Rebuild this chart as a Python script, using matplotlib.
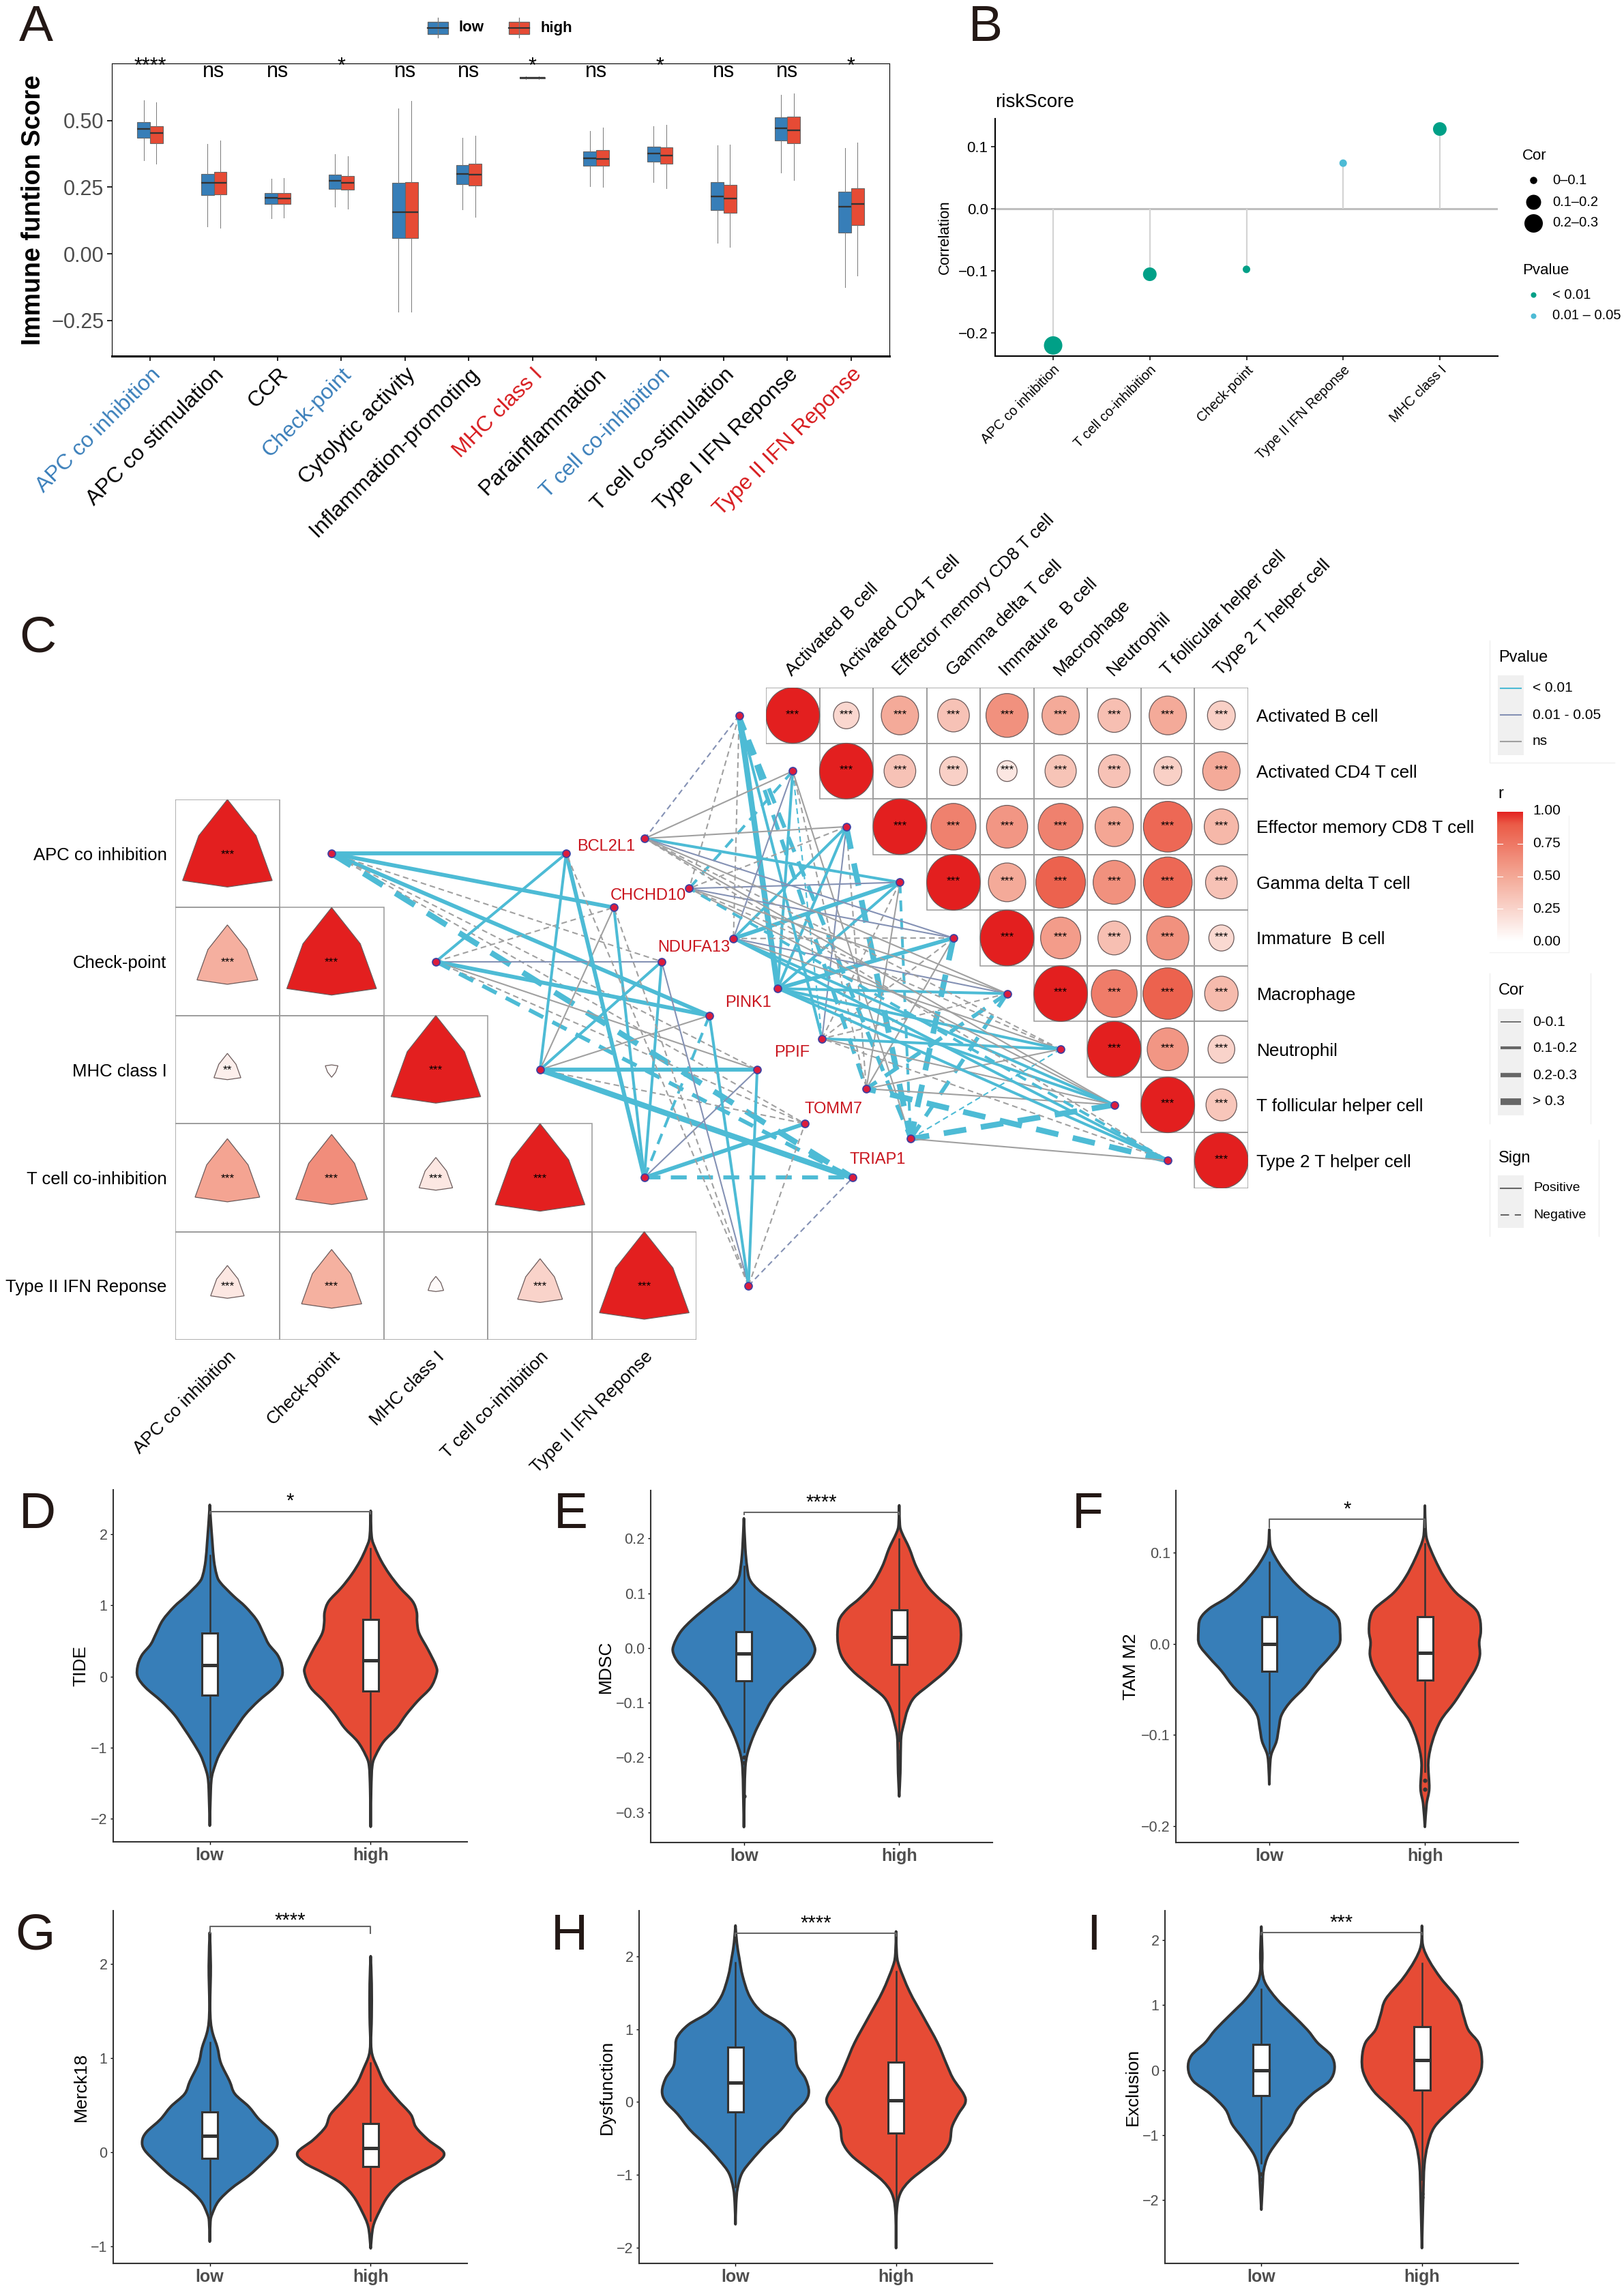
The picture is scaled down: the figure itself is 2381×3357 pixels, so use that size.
import numpy as np
from matplotlib import pyplot as plt
from matplotlib.colors import LinearSegmentedColormap
from matplotlib.patches import Ellipse, PathPatch, Polygon, Rectangle
from matplotlib.path import Path

W, H = 2381, 3357
plt.rcParams['font.family'] = ['Liberation Sans', 'DejaVu Sans']

BLUE = '#377EB8'
RED = '#E64B35'
LABEL_BLUE = '#3A7FBA'
LABEL_RED = '#D7191C'
TEAL = '#00A087'
SKY = '#4DBBD5'
PURPLE = '#8491B4'
GREY = '#A0A0A0'
DARK = '#333333'
LETTER = '#231815'

# ---- panel A
functions = ['APC co inhibition', 'APC co stimulation', 'CCR', 'Check-point',
             'Cytolytic activity', 'Inflammation-promoting', 'MHC class I',
             'Parainflammation', 'T cell co-inhibition', 'T cell co-stimulation',
             'Type I IFN Reponse', 'Type II IFN Reponse']
function_colors = [LABEL_BLUE, 'black', 'black', LABEL_BLUE, 'black', 'black',
                   LABEL_RED, 'black', LABEL_BLUE, 'black', 'black', LABEL_RED]
function_sig = ['****', 'ns', 'ns', '*', 'ns', 'ns', '*', 'ns', '*', 'ns', 'ns', '*']
# whisker low, q1, median, q3, whisker high
function_low = [[.350, .435, .469, .494, .575], [.102, .220, .267, .299, .412],
                [.133, .187, .209, .227, .282], [.178, .243, .273, .297, .375],
                [-.216, .060, .157, .267, .546], [.166, .261, .299, .333, .435],
                [.655, .659, .661, .664, .666], [.253, .331, .359, .385, .461],
                [.268, .346, .376, .402, .480], [.042, .165, .216, .268, .408],
                [.306, .425, .470, .512, .596], [-.124, .081, .176, .234, .396]]
function_high = [[.337, .416, .452, .478, .567], [.098, .222, .267, .307, .425],
                 [.135, .186, .208, .229, .285], [.170, .240, .267, .291, .367],
                 [-.217, .059, .157, .269, .574], [.139, .256, .297, .337, .442],
                 [.655, .659, .661, .664, .666], [.250, .331, .355, .389, .474],
                 [.247, .337, .368, .399, .485], [.026, .155, .208, .259, .410],
                 [.276, .416, .463, .515, .602], [-.080, .107, .187, .246, .418]]

# ---- panel B
cor_terms = ['APC co inhibition', 'T cell co-inhibition', 'Check-point',
             'Type II IFN Reponse', 'MHC class I']
cor_values = [-.2206, -.1059, -.098, .073, .128]
cor_sizes = [378, 207, 63, 63, 207]
cor_colors = [TEAL, TEAL, TEAL, SKY, TEAL]

# ---- panel C
left_terms = ['APC co inhibition', 'Check-point', 'MHC class I',
              'T cell co-inhibition', 'Type II IFN Reponse']
left_r = [[1.], [.46, 1.], [.09, -.02, 1.], [.52, .64, .14, 1.], [.14, .45, .03, .25, 1.]]
left_stars = [['***'], ['***', '***'], ['**', '', '***'],
              ['***', '***', '***', '***'], ['***', '***', '', '***', '***']]
right_terms = ['Activated B cell', 'Activated CD4 T cell', 'Effector memory CD8 T cell',
               'Gamma delta T cell', 'Immature  B cell', 'Macrophage', 'Neutrophil',
               'T follicular helper cell', 'Type 2 T helper cell']
right_r = [[1., .23, .485, .35, .62, .485, .37, .485, .27],
           [1., .35, .27, .14, .34, .35, .27, .485],
           [1., .70, .59, .70, .51, .83, .41],
           [1., .485, .86, .62, .83, .35],
           [1., .56, .37, .62, .22],
           [1., .73, .86, .39],
           [1., .59, .25],
           [1., .33],
           [1.]]
genes = ['BCL2L1', 'CHCHD10', 'NDUFA13', 'PINK1', 'PPIF', 'TOMM7', 'TRIAP1']
# one code per gene: s/d solid or dashed, b/p/g p-value colour, 1-4 width class
left_edges = [['sb3', 'sb3', 'dg1', 'sb3', 'dg1', 'dg1', 'db4'],
              ['sb2', 'dg1', 'sp1', 'sb3', 'sg1', 'dg1', 'db3'],
              ['sb2', 'sg1', 'sb2', 'sg1', 'sb3', 'dg1', 'sb4'],
              ['sb3', 'sb2', 'sb2', 'db2', 'sp1', 'sb3', 'db3'],
              ['dg1', 'dg1', 'sp1', 'sb2', 'sb2', 'dg1', 'dp1']]
right_edges = [['dp1', 'dg1', 'dg1', 'sb4', 'sb2', 'db3', 'db3'],
               ['sg1', 'db2', 'sp1', 'sb2', 'db1', 'dg1', 'sg1'],
               ['sg1', 'dg1', 'sb2', 'sb2', 'sp1', 'dg1', 'db4'],
               ['sb2', 'sp1', 'sb3', 'sb2', 'dg1', 'sg1', 'db2'],
               ['sp1', 'sp1', 'dg1', 'sb3', 'dg1', 'sg1', 'db4'],
               ['sg1', 'sg1', 'sp1', 'sb2', 'dg1', 'db3', 'db3'],
               ['dg1', 'dg1', 'sg1', 'sb2', 'sb2', 'sg1', 'db1'],
               ['sg1', 'sg1', 'sb2', 'sb2', 'sg1', 'sg1', 'db4'],
               ['dg1', 'db2', 'sb2', 'sb2', 'dg1', 'db4', 'sg1']]

# ---- panels D-I: violin outlines read as (value, half width)
tide_low_y = [2.414, 2.197, 1.894, 1.628, 1.438, 1.324, 1.135, .983, .793, .603, .452, .300,
              .148, -.004, -.156, -.345, -.535, -.725, -.915, -1.104, -1.256, -1.408, -1.598, -2.099]
tide_low_w = [0, .006, .016, .026, .042, .065, .146, .221, .292, .334, .367, .422,
              .448, .448, .399, .302, .221, .162, .107, .058, .032, .013, .006, 0]
tide_high_y = [2.330, 1.970, 1.818, 1.628, 1.438, 1.249, 1.059, .907, .755, .603, .376, .148,
               .034, -.156, -.345, -.535, -.725, -.915, -1.104, -1.256, -1.598, -2.114]
tide_high_w = [0, .006, .026, .065, .117, .182, .260, .286, .289, .302, .357, .406,
               .409, .373, .292, .221, .162, .081, .032, .010, .003, 0]
mdsc_low_y = [.2367, .182, .149, .125, .106, .082, .053, .030, .006, -.009, -.028, -.051,
              -.075, -.099, -.123, -.147, -.170, -.194, -.218, -.266, -.327]
mdsc_low_w = [0, .009, .020, .038, .094, .205, .328, .406, .451, .455, .417, .328,
              .239, .172, .127, .083, .049, .022, .009, .004, 0]
mdsc_high_y = [.2605, .225, .210, .182, .149, .115, .091, .072, .053, .030, .006, -.018,
               -.042, -.066, -.090, -.113, -.137, -.161, -.194, -.228, -.271]
mdsc_high_w = [0, .004, .018, .065, .109, .176, .254, .333, .384, .397, .393, .366,
               .299, .199, .098, .054, .031, .013, .009, .007, 0]
tam_low_y = [.1255, .1077, .0963, .082, .0648, .0504, .039, .0275, .0132, -.0011, -.0155, -.0298,
             -.047, -.0642, -.0785, -.0928, -.1072, -.1215, -.1358, -.1544]
tam_low_w = [0, .007, .035, .089, .176, .275, .383, .444, .455, .449, .383, .307,
             .231, .133, .078, .061, .046, .013, .004, 0]
tam_high_y = [.1519, .1278, .1135, .0934, .0734, .0562, .039, .0275, .0132, .0017, -.0126, -.0269,
              -.0441, -.0642, -.0842, -.1072, -.1301, -.1587, -.1759, -.2011]
tam_high_w = [0, .004, .015, .063, .124, .200, .320, .353, .359, .349, .353, .327,
              .266, .190, .102, .048, .022, .028, .011, 0]
merck_low_y = [2.331, 1.978, 1.571, 1.381, 1.259, 1.110, .947, .757, .621, .486, .350, .214,
               .119, .024, -.111, -.247, -.383, -.518, -.654, -.735, -.947]
merck_low_w = [0, .006, .002, .006, .019, .048, .069, .123, .156, .242, .307, .394,
               .420, .405, .329, .242, .134, .054, .015, .004, 0]
merck_high_y = [2.081, 1.788, 1.436, 1.164, 1.028, .893, .730, .567, .404, .269, .133, -.003,
                -.111, -.220, -.328, -.464, -.627, -.790, -1.018]
merck_high_w = [0, .006, .006, .002, .011, .043, .087, .162, .249, .281, .357, .455,
                .411, .292, .184, .108, .054, .015, 0]
dys_low_y = [2.421, 2.182, 1.972, 1.726, 1.446, 1.235, 1.060, .884, .709, .498, .323, .147,
             .007, -.168, -.379, -.589, -.800, -.975, -1.186, -1.396, -1.677]
dys_low_w = [0, .009, .024, .045, .089, .165, .294, .364, .374, .385, .435, .457,
             .435, .359, .284, .186, .100, .041, .013, .004, 0]
dys_high_y = [2.340, 2.042, 1.867, 1.516, 1.165, .814, .533, .323, .112, -.011, -.168, -.344,
              -.554, -.730, -.905, -1.081, -1.256, -1.502, -2.004]
dys_high_w = [0, .004, .019, .084, .171, .258, .312, .355, .420, .431, .387, .348,
              .333, .279, .182, .084, .026, .004, 0]
excl_low_y = [2.204, 1.796, 1.521, 1.324, 1.088, .853, .617, .420, .224, .028, -.169, -.365,
              -.601, -.837, -1.073, -1.308, -1.544, -1.780, -2.145]
excl_low_w = [0, .006, .006, .027, .097, .192, .287, .350, .435, .456, .424, .319,
              .224, .181, .108, .044, .015, .008, 0]
excl_high_y = [2.216, 1.914, 1.678, 1.403, 1.088, .853, .617, .420, .185, -.051, -.326, -.601,
               -.876, -1.151, -1.466, -1.937, -2.735]
excl_high_w = [0, .006, .046, .120, .226, .257, .289, .352, .373, .363, .300, .184,
               .078, .036, .015, .008, 0]

# whisker low, q1, median, q3, whisker high
tide_low_box, tide_high_box = [-1.41, -.262, .159, .611, 1.70], [-1.29, -.201, .224, .805, 1.80]
mdsc_low_box, mdsc_high_box = [-.19, -.060, -.010, .030, .149], [-.17, -.030, .020, .070, .199]
tam_low_box, tam_high_box = [-.12, -.03, 0, .03, .09], [-.14, -.04, -.01, .03, .11]
merck_low_box, merck_high_box = [-.654, -.065, .176, .429, 1.164], [-.722, -.147, .043, .309, .947]
dys_low_box, dys_high_box = [-1.168, -.133, .267, .751, 1.912], [-1.432, -.428, .025, .544, 1.796]
excl_low_box, excl_high_box = [-1.426, -.397, -.004, .389, 1.246], [-1.682, -.31, .157, .668, 1.639]

fig = plt.figure(figsize=(W / 100, H / 100), dpi=100)


def pixel_axes(x0, y0, x1, y1):
    return fig.add_axes([x0 / W, 1 - y1 / H, (x1 - x0) / W, (y1 - y0) / H])


pix = fig.add_axes([0, 0, 1, 1], zorder=10)
pix.set_xlim(0, W)
pix.set_ylim(H, 0)
pix.axis('off')


def make_box(values, fliers=()):
    return {'whislo': values[0], 'q1': values[1], 'med': values[2], 'q3': values[3],
            'whishi': values[4], 'fliers': list(fliers)}


def panel_a():
    ax = pixel_axes(164, 93, 1304, 522)
    for i in range(len(functions)):
        for pos, vals, col in ((i + .9, function_low[i], BLUE), (i + 1.1, function_high[i], RED)):
            ax.bxp([make_box(vals)], positions=[pos], widths=.2, patch_artist=True,
                   showcaps=False, showfliers=False, manage_ticks=False,
                   boxprops={'facecolor': col, 'edgecolor': '#666666', 'linewidth': .8},
                   whiskerprops={'color': '#777777', 'linewidth': .7},
                   medianprops={'color': DARK, 'linewidth': 1.7})
        top = .68 if '*' in function_sig[i] else .6625
        ax.text(i + 1, top, function_sig[i], ha='center', va='baseline', fontsize=22)
    ax.set_xlim(.4, 12.6)
    ax.set_ylim(-.383, .714)
    ax.set_yticks([-.25, 0, .25, .5], ['\u22120.25', '0.00', '0.25', '0.50'],
                  fontsize=22, color='#4D4D4D')
    ax.set_xticks(range(1, 13))
    ax.set_xticklabels(functions, rotation=45, ha='right', va='top', rotation_mode='anchor', fontsize=23)
    for lab, col in zip(ax.get_xticklabels(), function_colors):
        lab.set_color(col)
    ax.tick_params(length=5, width=1.2)
    ax.spines['bottom'].set_linewidth(2.2)
    ax.set_ylabel('Immune funtion Score', fontsize=27, fontweight='bold', labelpad=6)
    # legend at the top
    for x, col, name in ((627, BLUE, 'low'), (746, RED, 'high')):
        pix.plot([x + 15, x + 15], [26, 55], color='#777777', lw=.9)
        pix.add_patch(Rectangle((x, 32), 30, 18, fc=col, ec='#666666', lw=.9))
        pix.plot([x, x + 30], [41, 41], color=DARK, lw=1.6)
        pix.text(x + 46, 41, name, fontsize=16, fontweight='bold', va='center')


def panel_b():
    ax = pixel_axes(1459, 174, 2196, 522)
    xs = range(1, len(cor_terms) + 1)
    ax.axhline(0, color='#BEBEBE', lw=2.2, zorder=1)
    ax.vlines(xs, 0, cor_values, color='#D4D4D4', lw=1.6, zorder=1)
    ax.scatter(xs, cor_values, s=cor_sizes, c=cor_colors, zorder=3, linewidths=0)
    ax.set_xlim(.4, 5.6)
    ax.set_ylim(-.2377, .1446)
    ax.set_yticks([-.2, -.1, 0, .1], ['\u22120.2', '\u22120.1', '0.0', '0.1'], fontsize=16)
    ax.set_xticks(list(xs))
    ax.set_xticklabels(cor_terms, rotation=45, ha='right', va='top', rotation_mode='anchor', fontsize=14.5)
    ax.tick_params(length=4, width=1.1)
    ax.spines[['top', 'right']].set_visible(False)
    ax.spines[['left', 'bottom']].set_linewidth(1.5)
    ax.set_ylabel('Correlation', fontsize=16, labelpad=6)
    pix.text(1459, 150, 'riskScore', fontsize=20, va='center')
    pix.text(2232, 229, 'Cor', fontsize=16, va='center')
    for y, s, name in ((264, 58, '0\u20130.1'), (296, 250, '0.1\u20130.2'), (327, 378, '0.2\u20130.3')):
        pix.scatter([2248], [y], s=s, c='black', linewidths=0)
        pix.text(2276, y, name, fontsize=14.5, va='center')
    pix.text(2232, 396, 'Pvalue', fontsize=16, va='center')
    for y, c, name in ((432, TEAL, '< 0.01'), (463, SKY, '0.01 \u2013 0.05')):
        pix.scatter([2248], [y], s=34, c=c, linewidths=0)
        pix.text(2276, y, name, fontsize=14.5, va='center')


r_cmap = LinearSegmentedColormap.from_list(
    'r', [(0, 'white'), (.5, '#F4A896'), (.9, '#EB5B47'), (1, '#E31F1F')])
# teardrop cell marker, unit = one cell
drop_x = np.array([0, .275, .43, 0, -.43, -.275])
drop_y = np.array([-.5, -.165, .25, .31, .25, -.165])
edge_colors = {'b': SKY, 'p': PURPLE, 'g': GREY}
edge_widths = {'1': 1.5, '2': 2.9, '3': 4.2, '4': 6}


def draw_edges(ax, anchor_x, anchor_y, gene_x, gene_y, edges):
    for i, row in enumerate(edges):
        for j, code in enumerate(row):
            ls = '-' if code[0] == 's' else (0, (4, 2.6))
            ax.plot([anchor_x[i], gene_x[j]], [anchor_y[i], gene_y[j]], color=edge_colors[code[1]],
                    lw=edge_widths[code[2]], ls=ls, clip_on=False, zorder=1,
                    solid_capstyle='butt', dash_capstyle='butt')
    ax.scatter(np.r_[anchor_x, gene_x], np.r_[anchor_y, gene_y], s=62, c='#DC1C3C',
               edgecolors='#4040A0', linewidths=1.3, clip_on=False, zorder=4)


def panel_c_left():
    ax = pixel_axes(257, 1172, 1021, 1964)
    ax.patch.set_visible(False)
    ax.set_xlim(0, 5)
    ax.set_ylim(5, 0)
    for i, row in enumerate(left_r):
        for j, r in enumerate(row):
            ax.add_patch(Rectangle((j, i), 1, 1, fc='none', ec='#999999', lw=1.1, zorder=2))
            size = np.sqrt(abs(r))
            flip = 1 if r >= 0 else -1
            ax.add_patch(Polygon(np.c_[j + .5 + size * drop_x, i + .5 + flip * size * drop_y],
                                 fc=r_cmap(abs(r)), ec='#6B5B5B', lw=.9, zorder=3))
            ax.text(j + .5, i + .535, left_stars[i][j], ha='center', va='baseline', fontsize=12.5, zorder=5)
    ax.set_yticks(np.arange(5) + .5, left_terms, fontsize=18.5)
    ax.set_xticks(np.arange(5) + .5)
    ax.set_xticklabels(left_terms, rotation=45, ha='right', va='top', rotation_mode='anchor', fontsize=19)
    ax.tick_params(length=0, pad=9)
    ax.spines[:].set_visible(False)
    # network: anchors sit one column right of the diagonal, genes on their own diagonal
    anchor_x = np.arange(5) + 1.5
    anchor_y = np.arange(5) + .5
    draw_edges(ax, anchor_x, anchor_y, np.linspace(3.75, 6.5, 7), np.linspace(.5, 3.5, 7), left_edges)
    label_x = [846, 895, 964, 1063, 1135, 1180, 1246]
    label_y = [1241, 1313, 1389, 1470, 1543, 1626, 1700]
    for name, x, y in zip(genes, label_x, label_y):
        pix.text(x, y, name, color='#C9151E', fontsize=17, va='center')


def panel_c_right():
    ax = pixel_axes(1123, 1008, 1830, 1742)
    ax.patch.set_visible(False)
    ax.set_xlim(0, 9)
    ax.set_ylim(9, 0)
    for i, row in enumerate(right_r):
        for k, r in enumerate(row):
            j = i + k
            ax.add_patch(Rectangle((j, i), 1, 1, fc='none', ec='#999999', lw=1.1, zorder=2))
            size = np.sqrt(r)
            ax.add_patch(Ellipse((j + .5, i + .5), size, size, fc=r_cmap(r), ec='#6B5B5B', lw=.9, zorder=3))
            ax.text(j + .5, i + .535, '***', ha='center', va='baseline', fontsize=12.5, zorder=5)
    ax.yaxis.tick_right()
    ax.set_yticks(np.arange(9) + .5, right_terms, fontsize=18.8)
    ax.xaxis.tick_top()
    ax.set_xticks(np.arange(9) + .53)
    ax.set_xticklabels(right_terms, rotation=45, ha='left', va='bottom', rotation_mode='anchor', fontsize=19)
    ax.tick_params(length=0, pad=9)
    ax.spines[:].set_visible(False)
    anchor_x = np.arange(9) - .5
    anchor_y = np.arange(9) + .5
    draw_edges(ax, anchor_x, anchor_y, np.linspace(-2.26, 2.7, 7), np.linspace(2.71, 8.11, 7), right_edges)
    # legends
    pix.text(2197, 964, 'Pvalue', fontsize=17, va='center')
    pix.add_patch(Rectangle((2196, 990), 38, 117, fc='#F0F0F0', ec='none'))
    for y, c, name in ((1009, SKY, '< 0.01'), (1048, PURPLE, '0.01 - 0.05'), (1087, GREY, 'ns')):
        pix.plot([2200, 2230], [y, y], color=c, lw=1.5)
        pix.text(2247, y, name, fontsize=15, va='center')
    pix.plot([2184, 2184, 2367], [939, 1118, 1118], color='#EEEEEE', lw=1)
    pix.text(2196, 1164, 'r', fontsize=17, va='center')
    bar = pixel_axes(2195, 1190, 2233, 1379)
    bar.imshow(np.linspace(1, 0, 256).reshape(-1, 1), cmap=r_cmap, aspect='auto', vmin=0, vmax=1)
    bar.axis('off')
    for y, name in ((1189, '1.00'), (1237, '0.75'), (1285, '0.50'), (1332, '0.25'), (1380, '0.00')):
        pix.text(2247, y, name, fontsize=15, va='center')
        if 1189 < y < 1380:
            pix.plot([2195, 2203], [y, y], color='white', lw=.8)
            pix.plot([2225, 2233], [y, y], color='white', lw=.8)
    pix.plot([2184, 2300, 2300], [1396, 1396, 1196], color='#F2F2F2', lw=1)
    pix.text(2197, 1452, 'Cor', fontsize=17, va='center')
    pix.add_patch(Rectangle((2196, 1479), 38, 156, fc='#F0F0F0', ec='none'))
    for y, lw, name in ((1498, 1.3, '0-0.1'), (1536, 3, '0.1-0.2'), (1576, 4.6, '0.2-0.3'), (1615, 7, '> 0.3')):
        pix.plot([2200, 2230], [y, y], color='#666666', lw=lw, solid_capstyle='butt')
        pix.text(2247, y, name, fontsize=15, va='center')
    pix.plot([2184, 2184], [1427, 1647], color='#EEEEEE', lw=1)
    pix.plot([2332, 2332], [1427, 1647], color='#EEEEEE', lw=1)
    pix.text(2197, 1698, 'Sign', fontsize=17, va='center')
    pix.add_patch(Rectangle((2196, 1723), 38, 77, fc='#F0F0F0', ec='none'))
    pix.plot([2200, 2230], [1742, 1742], color='#666666', lw=1.5)
    pix.plot([2200, 2230], [1781, 1781], color='#666666', lw=1.5, ls=(0, (6, 4)))
    pix.text(2248, 1742, 'Positive', fontsize=14, va='center')
    pix.text(2248, 1781, 'Negative', fontsize=14, va='center')
    pix.plot([2184, 2184], [1671, 1812], color='#EEEEEE', lw=1)
    pix.plot([2344, 2344], [1671, 1812], color='#EEEEEE', lw=1)


def bezier_chain(pts):
    # catmull-rom through the read points, handed to Path as cubic segments
    verts = []
    for i in range(len(pts) - 1):
        p0 = pts[max(i - 1, 0)]
        p1, p2 = pts[i], pts[i + 1]
        p3 = pts[min(i + 2, len(pts) - 1)]
        verts += [p1 + (p2 - p0) / 6, p2 - (p3 - p1) / 6, p2]
    return verts


def violin_patch(center, ys, widths, color):
    ys = np.asarray(ys, float)
    widths = np.asarray(widths, float)
    right = np.c_[center + widths, ys]
    left = np.c_[center - widths, ys][::-1]
    verts = [right[0]] + bezier_chain(right) + bezier_chain(left) + [right[0]]
    codes = [Path.MOVETO] + [Path.CURVE4] * (len(verts) - 2) + [Path.CLOSEPOLY]
    return PathPatch(Path(verts, codes), fc=color, ec=DARK, lw=2.8, joinstyle='round', zorder=2)


def violin_panel(box, name, ylim, ticks, tick_labels, low, high, low_box, high_box, bracket,
                 tip, stars, lift, low_fliers=(), high_fliers=()):
    ax = pixel_axes(*box)
    ax.add_patch(violin_patch(1, low[0], low[1], BLUE))
    ax.add_patch(violin_patch(2, high[0], high[1], RED))
    for pos, vals, fl in ((1, low_box, low_fliers), (2, high_box, high_fliers)):
        ax.bxp([make_box(vals, fl)], positions=[pos], widths=.1, patch_artist=True, showcaps=False,
               manage_ticks=False, zorder=3,
               boxprops={'facecolor': 'white', 'edgecolor': DARK, 'linewidth': 2.2},
               whiskerprops={'color': DARK, 'linewidth': 1.8},
               medianprops={'color': DARK, 'linewidth': 3.6, 'solid_capstyle': 'butt'},
               flierprops={'marker': 'o', 'markersize': 3.5, 'markerfacecolor': DARK,
                           'markeredgecolor': DARK})
    ax.plot([1, 1, 2, 2], [bracket - tip, bracket, bracket, bracket - tip], color='#666666', lw=1.5, zorder=4)
    ax.annotate(stars, (1.5, bracket), xytext=(0, lift), textcoords='offset points',
                ha='center', va='baseline', fontsize=21, annotation_clip=False)
    ax.set_xlim(.4, 2.6)
    ax.set_ylim(*ylim)
    ax.set_yticks(ticks, tick_labels, fontsize=15.5, color='#4D4D4D')
    ax.set_xticks([1, 2], ['low', 'high'], fontsize=18, fontweight='bold', color='#4D4D4D')
    ax.tick_params(length=3, width=1, pad=3)
    ax.spines[['top', 'right']].set_visible(False)
    ax.spines[['left', 'bottom']].set_linewidth(1.5)
    ax.spines[['left', 'bottom']].set_color(DARK)
    ax.set_ylabel(name, fontsize=19, labelpad=2)


panel_a()
panel_b()
panel_c_left()
panel_c_right()

int_ticks = ['\u22122', '\u22121', '0', '1', '2']
violin_panel((166, 2184, 685, 2700), 'TIDE', (-2.326, 2.626), [-2, -1, 0, 1, 2], int_ticks,
             (tide_low_y, tide_low_w), (tide_high_y, tide_high_w), tide_low_box, tide_high_box,
             2.319, .03, '*', 5)
violin_panel((954, 2185, 1455, 2701), 'MDSC', (-.3552, .2876), [-.3, -.2, -.1, 0, .1, .2],
             ['\u22120.3', '\u22120.2', '\u22120.1', '0.0', '0.1', '0.2'],
             (mdsc_low_y, mdsc_low_w), (mdsc_high_y, mdsc_high_w), mdsc_low_box, mdsc_high_box,
             .2476, .003, '****', 5, (-.20, -.21, -.27), (-.19, -.20, -.21))
violin_panel((1724, 2185, 2226, 2701), 'TAM M2', (-.2183, .1685), [-.2, -.1, 0, .1],
             ['\u22120.2', '\u22120.1', '0.0', '0.1'],
             (tam_low_y, tam_low_w), (tam_high_y, tam_high_w), tam_low_box, tam_high_box,
             .137, .009, '*', 5, (), (-.15, -.16))
violin_panel((166, 2801, 685, 3318), 'Merck18', (-1.178, 2.564), [-1, 0, 1, 2], int_ticks[1:],
             (merck_low_y, merck_low_w), (merck_high_y, merck_high_w), merck_low_box, merck_high_box,
             2.399, .075, '****', 0)
violin_panel((937, 2801, 1455, 3318), 'Dysfunction', (-2.214, 2.625), [-2, -1, 0, 1, 2], int_ticks,
             (dys_low_y, dys_low_w), (dys_high_y, dys_high_w), dys_low_box, dys_high_box,
             2.312, .03, '****', 5)
violin_panel((1708, 2801, 2226, 3318), 'Exclusion', (-2.971, 2.448), [-2, -1, 0, 1, 2], int_ticks,
             (excl_low_y, excl_low_w), (excl_high_y, excl_high_w), excl_low_box, excl_high_box,
             2.110, .03, '***', 5, (-1.60, -1.68), (-1.90, -1.95))

letter_x = [28, 1420, 28, 28, 812, 1572, 22, 808, 1593]
letter_y = [60, 60, 955, 2240, 2240, 2240, 2858, 2858, 2858]
for letter, x, y in zip('ABCDEFGHI', letter_x, letter_y):
    pix.text(x, y, letter, fontsize=54, color=LETTER, va='baseline')

fig.savefig('out.png', dpi=100)
